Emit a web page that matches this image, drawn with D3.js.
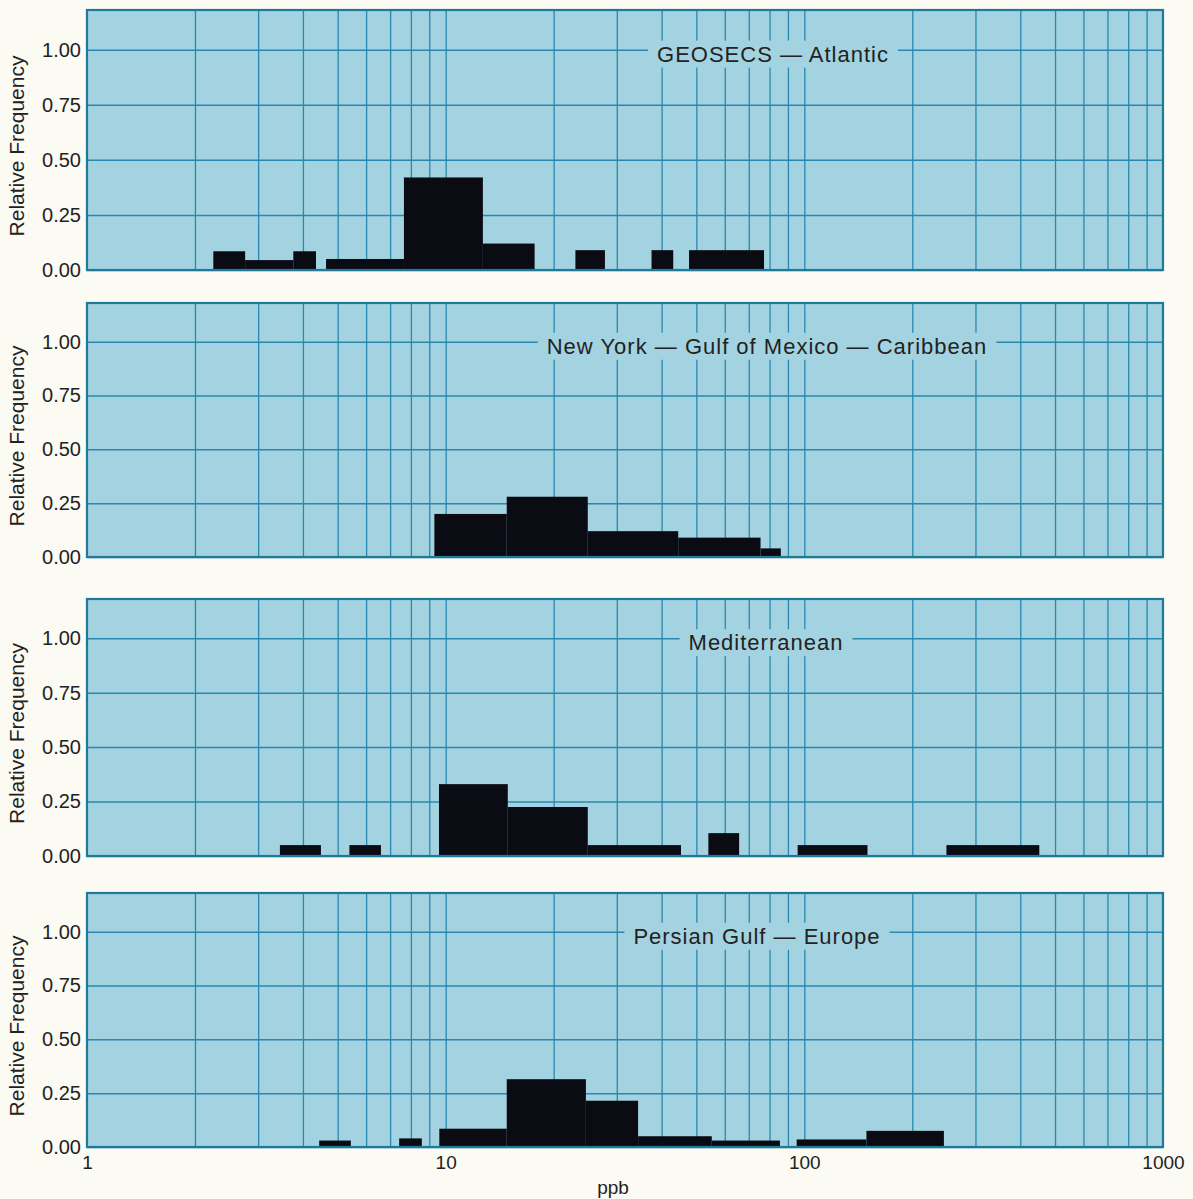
<!DOCTYPE html>
<html>
<head>
<meta charset="utf-8">
<script src="https://cdn.jsdelivr.net/npm/d3@7"></script>
<style>
  html, body { margin: 0; padding: 0; background: #fbfaf3; }
  svg { display: block; }
  text { font-family: "Liberation Sans", Arial, Helvetica, sans-serif; fill: #222; }
</style>
</head>
<body>
<svg id="chart" width="1193" height="1199"></svg>
<script>
// Panel titles
const titles = [
  "GEOSECS \u2014 Atlantic",
  "New York \u2014 Gulf of Mexico \u2014 Caribbean",
  "Mediterranean",
  "Persian Gulf \u2014 Europe"
];

// Histogram bins per region: lower edge, upper edge (ppb) and relative frequency
const atlanticLo   = [2.25, 2.76, 3.76, 4.64, 7.65, 12.7, 23.0, 37.5, 47.7];
const atlanticHi   = [2.76, 3.76, 4.35, 7.65, 12.7, 17.7, 27.8, 43.1, 77.2];
const atlanticFreq = [0.085, 0.045, 0.085, 0.05, 0.42, 0.12, 0.09, 0.09, 0.09];

const nyLo   = [9.3, 14.8, 24.9, 44.5, 75.5];
const nyHi   = [14.8, 24.9, 44.5, 75.5, 86.0];
const nyFreq = [0.20, 0.28, 0.12, 0.09, 0.04];

const medLo   = [3.45, 5.39, 9.58, 14.9, 24.9, 54.0, 95.8, 249];
const medHi   = [4.49, 6.6, 14.9, 24.9, 45.3, 65.8, 150, 452];
const medFreq = [0.05, 0.05, 0.33, 0.225, 0.05, 0.105, 0.05, 0.05];

const gulfLo   = [4.44, 7.42, 9.6, 14.8, 24.6, 34.4, 55.2, 95.2, 149];
const gulfHi   = [5.44, 8.58, 14.8, 24.6, 34.4, 55.2, 85.5, 149, 245];
const gulfFreq = [0.03, 0.04, 0.085, 0.315, 0.215, 0.05, 0.03, 0.035, 0.075];

// Axis ticks
const yTicks = [0, 0.25, 0.5, 0.75, 1.0];
const xTickLabels = [1, 10, 100, 1000];
const xGrid = [2,3,4,5,6,7,8,9,10,20,30,40,50,60,70,80,90,100,200,300,400,500,600,700,800,900];

const panels = [
  { title: titles[0], lo: atlanticLo, hi: atlanticHi, freq: atlanticFreq },
  { title: titles[1], lo: nyLo, hi: nyHi, freq: nyFreq },
  { title: titles[2], lo: medLo, hi: medHi, freq: medFreq },
  { title: titles[3], lo: gulfLo, hi: gulfHi, freq: gulfFreq }
];

// Layout
const left = 87, right = 1163;
const tops = [10, 303, 599, 893];
const bottoms = [270, 557, 856, 1147];
const titleCenters = [773, 767, 766, 757];
const yMax = 1.18;

const panelFill = "#a3d3e0";
const gridColor = "#2888b0";
const frameColor = "#1f7a9a";
const barColor = "#0b0b14";

const svg = d3.select("#chart");
const x = d3.scaleLog().domain([1, 1000]).range([left, right]);

panels.forEach((p, i) => {
  const top = tops[i], bottom = bottoms[i];
  const y = d3.scaleLinear().domain([0, yMax]).range([bottom, top]);
  const g = svg.append("g");

  // panel background
  g.append("rect")
    .attr("x", left).attr("y", top)
    .attr("width", right - left).attr("height", bottom - top)
    .attr("fill", panelFill);

  // vertical grid
  const vg = g.append("g")
    .attr("transform", `translate(0,${bottom})`)
    .call(d3.axisBottom(x).tickValues(xGrid).tickSize(-(bottom - top)).tickFormat(""));
  vg.select(".domain").remove();
  vg.selectAll(".tick line").attr("stroke", gridColor).attr("stroke-width", 1.3);

  // horizontal grid + y labels
  const hg = g.append("g")
    .attr("transform", `translate(${left},0)`)
    .call(d3.axisLeft(y).tickValues(yTicks).tickSize(-(right - left)).tickPadding(6).tickFormat(d3.format(".2f")));
  hg.select(".domain").remove();
  hg.selectAll(".tick line").attr("stroke", gridColor).attr("stroke-width", 1.5);
  hg.selectAll(".tick text")
    .attr("font-size", 20)
    .attr("fill", "#222")
    .attr("font-family", "'Liberation Sans', Arial, sans-serif");

  // bars
  g.append("g").selectAll("rect")
    .data(p.freq.map((f, k) => ({ lo: p.lo[k], hi: p.hi[k], f })))
    .join("rect")
    .attr("x", d => x(d.lo))
    .attr("width", d => x(d.hi) - x(d.lo))
    .attr("y", d => y(d.f))
    .attr("height", d => y(0) - y(d.f))
    .attr("fill", barColor);

  // frame
  g.append("rect")
    .attr("x", left).attr("y", top)
    .attr("width", right - left).attr("height", bottom - top)
    .attr("fill", "none")
    .attr("stroke", frameColor).attr("stroke-width", 2.2);

  // title with a background patch over the grid
  const tg = g.append("g");
  const t = tg.append("text")
    .attr("x", titleCenters[i])
    .attr("y", y(1.0) + 12)
    .attr("text-anchor", "middle")
    .attr("font-size", 22)
    .attr("letter-spacing", 1)
    .text(p.title);
  const bb = t.node().getBBox();
  tg.insert("rect", "text")
    .attr("x", bb.x - 9).attr("y", bb.y - 1)
    .attr("width", bb.width + 18).attr("height", bb.height + 2)
    .attr("fill", panelFill);

  // y-axis title
  g.append("text")
    .attr("transform", `translate(24,${(top + bottom) / 2 + 6}) rotate(-90)`)
    .attr("text-anchor", "middle")
    .attr("font-size", 21)
    .text("Relative Frequency");

  // x labels on the bottom panel only
  if (i === panels.length - 1) {
    const xa = g.append("g")
      .attr("transform", `translate(0,${bottom})`)
      .call(d3.axisBottom(x).tickValues(xTickLabels).tickSize(0).tickPadding(9).tickFormat(d3.format("d")));
    xa.select(".domain").remove();
    xa.selectAll(".tick text")
      .attr("font-size", 19)
      .attr("fill", "#222")
      .attr("font-family", "'Liberation Sans Narrow', 'Liberation Sans', Arial, sans-serif");
    g.append("text")
      .attr("x", 613).attr("y", 1194)
      .attr("text-anchor", "middle")
      .attr("font-size", 19)
      .attr("font-family", "'Liberation Sans Narrow', 'Liberation Sans', Arial, sans-serif")
      .text("ppb");
  }
});
</script>
</body>
</html>
